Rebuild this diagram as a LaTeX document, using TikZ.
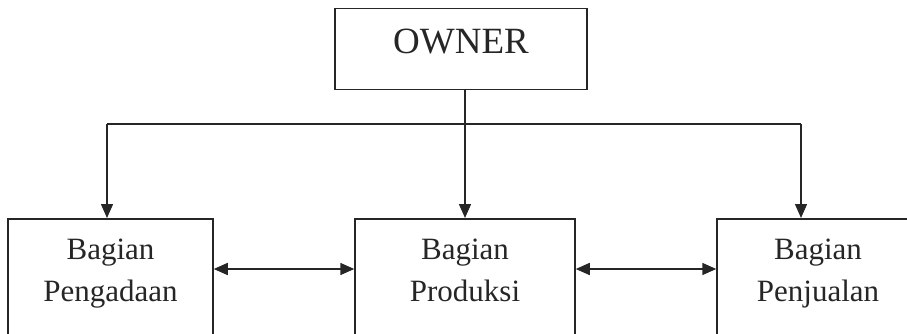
\documentclass[tikz,border=0pt]{standalone}
\usepackage{fontspec}
\setmainfont{Liberation Serif}
\usepackage{tikz}
\usetikzlibrary{positioning}
\usetikzlibrary{arrows.meta}

\tikzset{
    kotak/.style={draw=black!85, line width=1.5pt, anchor=north, inner sep=0pt, text=black!85},
    bagian/.style={kotak, align=center, font=\fontsize{31}{42}\selectfont, text height=83pt, text depth=200pt},
    panah/.style={draw=black!85, line width=1.5pt, -{Triangle[length=14pt,width=12pt]}},
    duapanah/.style={draw=black!85, line width=1.5pt, {Triangle[length=14pt,width=12pt]}-{Triangle[length=14pt,width=12pt]}}
}

\begin{document}
\begin{tikzpicture}[x=1pt, y=-1pt]

\useasboundingbox (0,0) rectangle (907,334);
\clip (0,0) rectangle (907,334);

\node[kotak, minimum width=252pt, font=\fontsize{37}{44}\selectfont, text height=45pt, text depth=36pt] (owner) at (461,8) {OWNER};

\node[bagian, minimum width=205pt] (pengadaan) at (110.5,218) {Bagian\\Pengadaan};
\node[bagian, minimum width=220pt] (produksi) at (465,218) {Bagian\\Produksi};
\node[bagian, minimum width=202pt] (penjualan) at (818,218) {Bagian\\Penjualan};

\coordinate (kiri) at (107,124);
\coordinate (kanan) at (801,124);

\draw[panah] (owner.south -| produksi.north) -- (produksi.north);
\draw[draw=black!85, line width=1.5pt] (kiri) -- (kanan);
\draw[panah] (kiri) -- (kiri |- pengadaan.north);
\draw[panah] (kanan) -- (kanan |- penjualan.north);

\draw[duapanah] (pengadaan.east |- 0,269) -- (produksi.west |- 0,269);
\draw[duapanah] (produksi.east |- 0,269) -- (penjualan.west |- 0,269);

\end{tikzpicture}
\end{document}
